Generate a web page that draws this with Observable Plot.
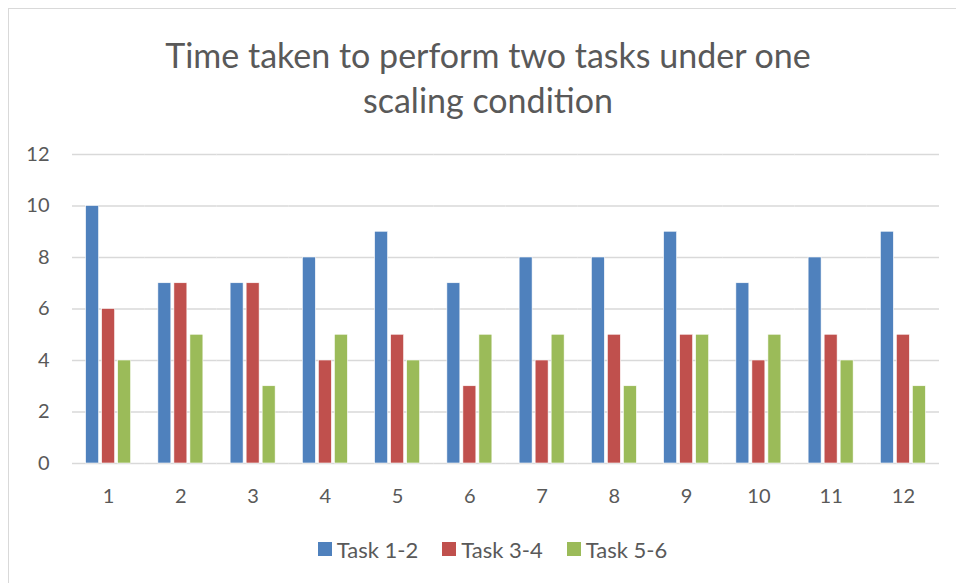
<!DOCTYPE html>
<html>
<head>
<meta charset="utf-8">
<script src="https://cdn.jsdelivr.net/npm/d3@7"></script>
<script src="https://cdn.jsdelivr.net/npm/@observablehq/plot@0.6"></script>
<style>
  html, body { margin: 0; padding: 0; background: #fff; overflow: hidden; }
  #wrap { position: relative; width: 956px; height: 583px; overflow: hidden; font-family: Lato, "Open Sans", sans-serif; color: #595959; }
  #frame { position: absolute; left: 8px; top: 8px; width: 1000px; height: 700px; border: 1px solid #D9D9D9; box-sizing: border-box; }
  #title { position: absolute; left: 0; width: 976px; top: 32px; text-align: center; font-size: 34px; line-height: 45px; }
  #chart { position: absolute; left: 0; top: 130px; }
  #legend { position: absolute; left: 0; width: 985px; top: 534px; text-align: center; font-size: 22px; }
  .item { display: inline-flex; align-items: center; margin: 0 12px; }
  .sw { display: inline-block; width: 14px; height: 14px; margin-right: 5px; }
</style>
</head>
<body>
<div id="wrap">
  <div id="frame"></div>
  <div id="title">Time taken to perform two tasks under one<br>scaling condition</div>
  <div id="chart"></div>
  <div id="legend"></div>
</div>
<script>
const categories = ["1","2","3","4","5","6","7","8","9","10","11","12"];
const seriesNames = ["Task 1-2","Task 3-4","Task 5-6"];
const task12 = [10,7,7,8,9,7,8,8,9,7,8,9];
const task34 = [6,7,7,4,5,3,4,5,5,4,5,5];
const task56 = [4,5,3,5,4,5,5,3,5,5,4,3];
const colors = ["#4F81BD","#C0504D","#9BBB59"];
const yTicks = [0,2,4,6,8,10,12];

const seriesValues = [task12, task34, task56];
const data = [];
categories.forEach((c, i) => {
  seriesNames.forEach((s, j) => data.push({cat: c, series: s, value: seriesValues[j][i]}));
});

const chart = Plot.plot({
  width: 956,
  height: 390,
  marginLeft: 72,
  marginRight: 17,
  marginTop: 24,
  marginBottom: 57,
  style: {fontFamily: "Lato, 'Open Sans', sans-serif", fontSize: "20px", color: "#595959", background: "transparent"},
  fx: {domain: categories, padding: 0, round: false, label: null},
  x: {domain: seriesNames, paddingInner: 0.19, paddingOuter: 0.85, round: false, axis: null},
  y: {domain: [0, 12], label: null},
  color: {domain: seriesNames, range: colors},
  marks: [
    Plot.ruleY(yTicks, {stroke: "#D9D9D9", strokeWidth: 1.5}),
    Plot.barY(data, {fx: "cat", x: "series", y: "value", fill: "series", stroke: "#fff", strokeWidth: 0.6}),
    Plot.axisY(yTicks, {tickSize: 0, tickPadding: 23, label: null, fill: "#595959"}),
    Plot.axisFx({anchor: "bottom", tickSize: 0, tickPadding: 25, label: null, fill: "#595959"})
  ]
});
document.getElementById("chart").appendChild(chart);

const legend = document.getElementById("legend");
seriesNames.forEach((s, j) => {
  const it = document.createElement("span");
  it.className = "item";
  const sw = document.createElement("span");
  sw.className = "sw";
  sw.style.background = colors[j];
  it.appendChild(sw);
  it.appendChild(document.createTextNode(s));
  legend.appendChild(it);
});
</script>
</body>
</html>
